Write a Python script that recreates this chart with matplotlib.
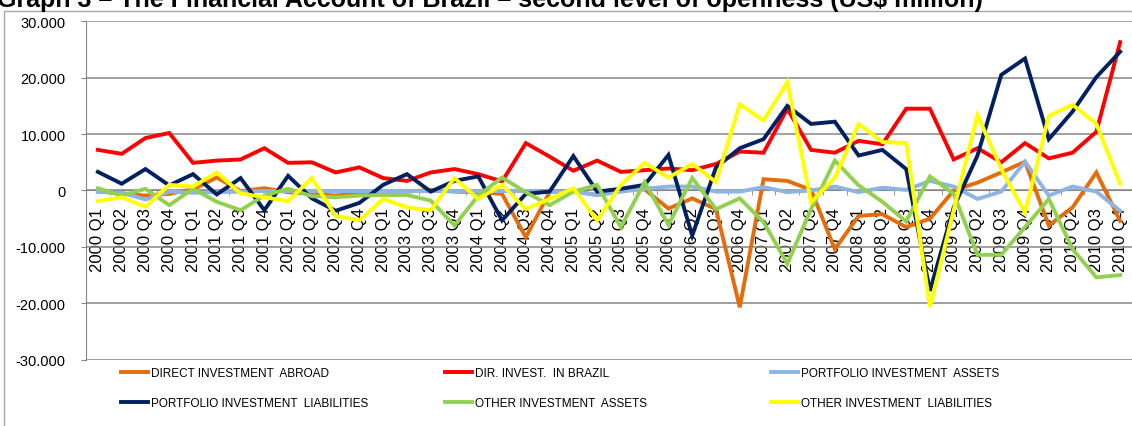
import matplotlib
matplotlib.use("Agg")
import matplotlib.pyplot as plt
from matplotlib.ticker import FixedLocator, FuncFormatter
from matplotlib.patches import Rectangle
from matplotlib.lines import Line2D

# quarters 2000 Q1 .. 2010 Q4
years = list(range(2000, 2011))
quarters = ["Q1", "Q2", "Q3", "Q4"]
labels = [f"{y} {q}" for y in years for q in quarters]

# US$ million
direct_abroad = [-200, -500, -900, -600, 200, 2300, -100, 400, -300, -600, -900, -500,
                 -300, -200, 100, -200, -300, -600, -8300, -300, -100, -800, 100, 200,
                 -3200, -1400, -3300, -20700, 2000, 1700, 100, -10400, -4500, -4200, -6500, -5000,
                 0, 1400, 3200, 5100, -6200, -3000, 3200, -5400]
dir_brazil = [7200, 6500, 9300, 10200, 4900, 5300, 5500, 7500, 4900, 5000, 3200, 4100,
              2200, 1700, 3200, 3800, 2900, 1600, 8400, 6000, 3500, 5300, 3300, 3600,
              3900, 3600, 4700, 6900, 6700, 14500, 7200, 6700, 8800, 8200, 14500, 14500,
              5500, 7500, 5000, 8400, 5700, 6700, 10400, 26300]
portf_assets = [-200, -400, -1600, -200, -400, -300, -200, -100, -100, -100, -100, -100,
                -100, -100, -100, -100, -100, -100, -100, -300, -200, -800, -200, 300,
                700, 700, -200, -200, 600, -300, 0, 700, -300, 500, 100, 1700,
                700, -1500, -200, 5100, -900, 700, -200, -3600]
portf_liab = [3300, 1200, 3800, 900, 2900, -700, 2200, -3500, 2600, -1400, -3600, -2200,
              1000, 2900, -200, 1700, 2500, -5300, -600, -200, 6100, -200, 300, 1000,
              6300, -8000, 4100, 7500, 9100, 15000, 11800, 12200, 6200, 7200, 3800, -17800,
              -3000, 6200, 20500, 23400, 9100, 14000, 20100, 24600]
other_assets = [400, -900, 300, -2600, 300, -2000, -3500, -900, 300, -1000, -1200, -900,
                -800, -800, -1800, -6200, -900, 2300, -300, -2600, -200, 1000, -6500, 1500,
                -6100, 2200, -3300, -1400, -5600, -13000, -3300, 5300, 900, -2000, -5500, 2500,
                -600, -11400, -11400, -6500, -1500, -10400, -15400, -15000]
other_liab = [-1900, -1200, -2900, 1000, 700, 3200, -500, -1200, -1900, 2200, -4500, -5300,
              -1500, -3000, -3500, 2200, -1500, 1000, -3300, -1500, 400, -5300, 1000, 4900,
              2300, 4700, 1500, 15300, 12400, 19200, -2100, 2300, 11800, 8600, 8400, -20700,
              -3500, 13400, 3800, -3900, 13200, 15200, 11800, 1200]

series = [
    ("DIRECT INVESTMENT  ABROAD", direct_abroad, "#E46C0A"),
    ("DIR. INVEST.  IN BRAZIL", dir_brazil, "#FF0000"),
    ("PORTFOLIO INVESTMENT  ASSETS", portf_assets, "#8DB4E2"),
    ("PORTFOLIO INVESTMENT  LIABILITIES", portf_liab, "#002060"),
    ("OTHER INVESTMENT  ASSETS", other_assets, "#92D050"),
    ("OTHER INVESTMENT  LIABILITIES", other_liab, "#FFFF00"),
]

plt.rcParams['font.family'] = ['Liberation Sans', 'DejaVu Sans']

fig = plt.figure(figsize=(11.32, 4.27), dpi=100)
ax = fig.add_axes([0.076, 0.1553, 0.924, 0.7925])

x = list(range(len(labels)))
for name, vals, col in series:
    ax.plot(x, vals, color=col, lw=2.8, solid_joinstyle='miter', label=name)

grid_col = "#868686"
ax.set_ylim(-30000, 30000)
ax.set_xlim(-0.5, len(labels) - 0.5)
ax.set_yticks(range(-30000, 30001, 10000))
ax.yaxis.set_major_formatter(FuncFormatter(lambda v, p: f"{v:,.0f}".replace(",", ".")))
ax.grid(axis='y', color=grid_col, lw=1.1)
ax.set_axisbelow(True)

for s in ['top', 'right']:
    ax.spines[s].set_visible(False)
ax.spines['left'].set_color(grid_col)
ax.spines['bottom'].set_position(('data', 0))
ax.spines['bottom'].set_color(grid_col)
ax.spines['bottom'].set_zorder(1.5)

ax.set_xticks(x)
ax.set_xticklabels(labels, rotation=90, fontsize=12)
ax.xaxis.set_minor_locator(FixedLocator([i + 0.5 for i in range(-1, len(labels))]))
ax.tick_params(axis='x', which='major', length=0, pad=12)
ax.tick_params(axis='x', which='minor', length=3.6, color=grid_col, direction='out')
ax.tick_params(axis='y', length=3.6, color=grid_col, labelsize=10.5, pad=11)

# legend, three columns placed by hand
cols_x = [128 / 1132, 452 / 1132, 778 / 1132]
for c in range(3):
    handles = []
    for r in range(2):
        name, vals, col = series[c + 3 * r]
        handles.append(Line2D([], [], color=col, lw=2.8, label=name))
    fig.legend(handles=handles, loc='upper left', bbox_to_anchor=(cols_x[c] - 0.006, 1 - 368 / 427),
               frameon=False, fontsize=8.5, handlelength=2.3, handletextpad=0.25,
               labelspacing=1.55, borderaxespad=0, borderpad=0)

# chart frame and the title, cut off at the top as in the source
fig.patches.append(Rectangle((4 / 1132, -0.1), 1.2, 1 - 12 / 427 + 0.1, transform=fig.transFigure,
                             fill=False, edgecolor="#A6A6A6", lw=1.0))
fig.text(-0.003, 1 - 7 / 427, "Graph 3 \u2013 The Financial Account of Brazil \u2013 second level of openness (US$ million)",
         fontsize=18, fontweight='bold', ha='left', va='baseline')

fig.savefig("out.png", dpi=100)
